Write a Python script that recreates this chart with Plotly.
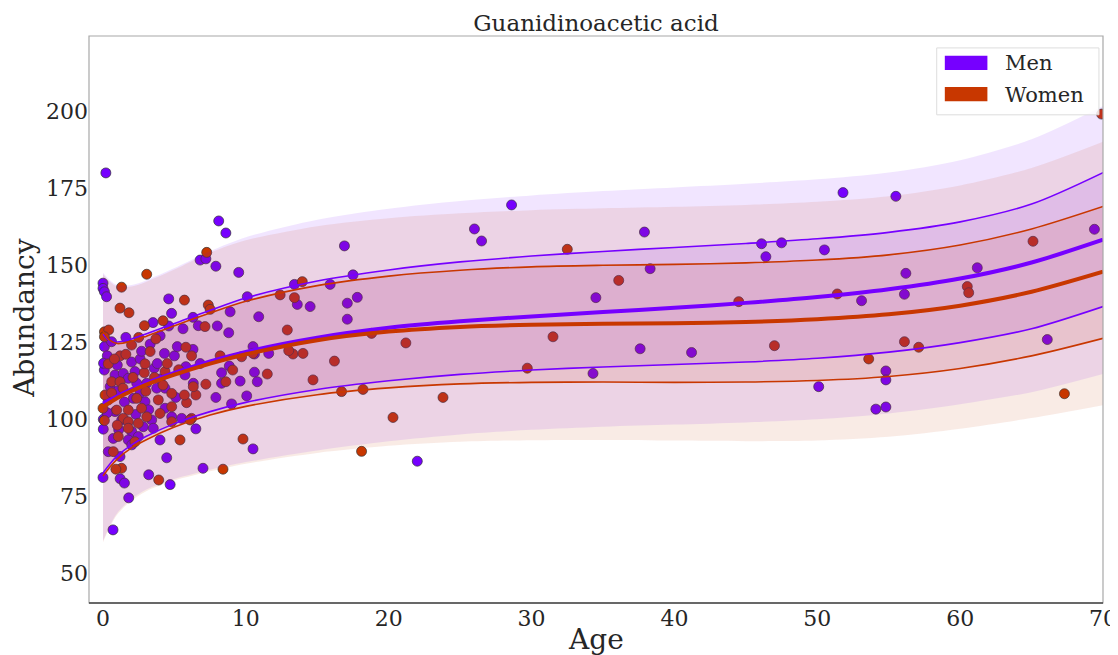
import plotly.graph_objects as go

# ---------------- data ----------------
men_age = [0.2, 8.1, 8.6, 6.8, 7.2, 7.9, 9.5, 16.9, 26.0, 26.5, 28.6, 37.9, 38.3, 34.5, 46.1, 47.5, 46.4,
           50.5, 51.8, 55.5, 56.2, 61.2, 69.4, 53.1, 56.1, 34.3, 37.6, 41.2, 54.8, 54.8, 50.1, 54.1, 54.8, 66.1,
           13.4, 15.9, 13.6, 14.5, 17.1, 10.1, 8.9, 10.9, 17.1, 8.0, 8.8, 10.5, 11.6, 10.6, 8.84, 8.3, 10.6,
           10.8, 9.6, 8.3, 7.9, 10.06, 9.0, 10.5, 22.0, 7.0, 6.5, 17.5, 17.8,
           0.0, 0.0, 0.1, 0.25, 4.6, 4.8, 3.5, 5.6, 4.6, 6.3, 6.67, 0.1, 0.6, 0.3, 4.3, 5.0, 6.3, 5.2,
           0.09, 0.84, 1.42, 1.77, 2.24, 2.36, 3.06, 3.59, 4.34, 3.76, 5.74, 6.32, 0.37, 0.84, 1.31, 2.12,
           2.94, 3.41, 4.34, 4.81, 2.82, 2.01, 3.52, 5.51, 0.02, 0.02, 0.37, 0.72, 1.77, 2.47, 2.01, 1.19,
           3.99, 4.46, 4.7, 0.7, 1.8, 3.2, 0.0, 1.2, 1.5,
           2.0, 2.6, 3.3, 1.6, 4.0, 2.7, 5.8, 6.8, 1.0, 3.8, 0.04,
           0.5, 1.0, 1.5, 2.6, 3.2, 0.3, 1.1, 2.3, 4.0, 5.1]
men_val = [179.9, 164.3, 160.4, 151.6, 152.0, 149.6, 147.6, 156.2, 161.7, 157.8, 169.5, 160.7, 148.8, 139.4,
           156.9, 157.2, 152.7, 154.9, 173.5, 172.3, 147.3, 149.1, 161.6, 138.4, 140.5, 114.8, 122.8, 121.6,
           115.6, 112.7, 110.5, 103.2, 103.9, 125.8,
           143.7, 143.7, 137.2, 136.5, 137.6, 139.7, 134.8, 133.2, 132.4, 130.2, 128.0, 123.5, 121.3, 121.1,
           117.2, 115.0, 115.2, 112.1, 112.3, 111.6, 107.0, 107.5, 104.9, 90.3, 86.3, 84.0, 96.8, 146.8, 139.5,
           144.1, 142.4, 141.3, 139.7, 139.0, 134.3, 131.3, 129.3, 130.2, 133.0, 130.3, 123.5, 125.1, 120.5,
           121.3, 120.5, 122.6, 123.5,
           115.9, 114.3, 114.8, 113.2, 115.4, 111.6, 111.6, 116.5, 110.0, 110.0, 114.3, 111.6, 106.2, 102.4,
           99.7, 106.7, 105.6, 99.7, 103.5, 100.7, 97.5, 95.9, 97.0, 100.2, 99.9, 96.7, 89.4, 93.7, 93.2,
           94.3, 91.6, 87.8, 93.2, 87.4, 78.7, 64.0, 74.4, 81.9, 81.0, 80.6, 79.2,
           118.5, 119.5, 124.3, 126.5, 127.0, 122.0, 117.0, 118.0, 117.5, 118.0, 118.1,
           110.5, 109.0, 105.5, 108.5, 103.0, 102.0, 96.5, 101.5, 113.0, 107.0]

women_age = [69.9, 32.5, 36.1, 65.1, 51.4, 60.5, 60.6, 44.5, 47.0, 56.1, 57.1, 53.6, 67.3, 29.7, 31.5, 23.8,
             21.2, 18.8, 20.3, 18.1, 18.2, 16.7, 16.2, 14.7,
             7.26, 13.95, 12.4, 13.4, 7.37, 7.5, 7.14, 12.9, 13.3, 14.0, 13.0, 9.7, 8.2, 9.08, 11.5, 8.6, 7.2,
             9.8, 8.4, 6.5, 6.2, 5.85, 5.7, 10.5,
             3.06, 1.3, 1.19, 1.82, 5.7, 2.9, 4.2, 0.1, 0.4, 0.1, 1.2, 3.3, 5.8, 6.2, 0.37, 0.61, 1.19, 2.89,
             2.94, 4.34, 4.81, 6.32, 0.14, 0.96, 1.77, 1.42, 2.36, 3.06, 3.87, 4.81, 3.99, 1.77, 1.77, 2.47,
             4.81, 6.09, 1.07, 2.24, 0.72, 5.39, 3.9, 1.3, 0.9, 0.1, 0.0,
             2.0, 3.7, 1.6, 4.5, 2.5,
             0.6, 1.4, 2.1, 3.0, 2.7, 1.0, 3.6, 4.2, 0.8, 5.3]
women_val = [199.0, 155.1, 145.0, 157.7, 140.6, 143.0, 141.0, 138.1, 123.8, 125.1, 123.3, 119.5, 108.2, 116.5,
             126.7, 107.0, 124.7, 127.8, 100.5, 89.5, 109.6, 108.9, 118.8, 112.7,
             154.1, 144.6, 140.3, 139.4, 137.0, 135.6, 130.0, 128.9, 121.1, 121.3, 122.2, 120.2, 120.5, 115.9,
             114.6, 112.1, 111.3, 93.5, 83.7, 107.8, 100.2, 105.3, 107.8, 121.3,
             147.0, 142.8, 136.0, 134.5, 138.6, 130.3, 131.9, 128.3, 128.9, 126.7, 120.5, 121.9, 123.3, 120.5,
             117.9, 112.1, 112.1, 115.0, 117.9, 115.4, 108.3, 110.5, 107.8, 102.9, 102.9, 100.2, 106.7, 100.7,
             106.2, 104.0, 101.8, 99.1, 97.0, 98.6, 99.1, 99.7, 94.3, 92.6, 89.4, 93.2, 80.2, 84.0, 83.7, 99.5,
             103.5,
             124.0, 126.0, 121.0, 118.0, 126.5,
             108.5, 110.0, 113.5, 109.0, 103.5, 98.0, 113.5, 111.0, 119.5, 116.0]

# fitted curves
grid = [0, 0.5, 1, 2, 3, 5, 7.5, 10, 15, 20, 25, 30, 35, 40, 45, 50, 55, 60, 65, 70]
men_mean = [105, 106.2, 107.4, 109.6, 111.6, 115, 118.7, 121.8, 126.4, 129.6, 131.7, 133.3, 134.7, 136.1,
            137.7, 139.6, 142.1, 145.6, 150.8, 158.2]
men_hi1 = [127.5, 125.3, 125, 126, 127.6, 131, 135.3, 139.3, 144.8, 148.4, 151, 152.9, 154.4, 155.7, 157,
           158.5, 160.6, 164, 169.8, 180]
men_lo1 = [82.5, 85.5, 88, 91.6, 94.3, 98.5, 102.4, 105.4, 109.6, 112.4, 114.5, 115.9, 116.9, 117.7, 118.5,
           119.7, 121.7, 124.8, 129.3, 136.5]
men_hi2 = [147.5, 145, 143.5, 143.5, 145, 149, 154.5, 159, 164.7, 168.3, 170.8, 172.6, 174, 175.2, 176.4,
           177.8, 180, 184, 190.8, 201.6]
men_lo2 = [60.5, 65.5, 69.5, 74, 77, 80.5, 83.5, 86, 89.8, 92.8, 95, 96.5, 97.5, 98.2, 98.9, 99.9, 101.8,
           104.8, 108.7, 114.6]
women_mean = [104, 105.4, 106.8, 109.1, 111.1, 114.4, 118, 121, 125.6, 128.4, 129.9, 130.6, 130.9, 131.1,
              131.5, 132.4, 134, 136.8, 141.3, 147.8]
women_hi1 = [128.5, 125.5, 124.5, 125.3, 126.8, 130.3, 134.4, 138.2, 143.3, 146.4, 148.3, 149.4, 149.9, 150.2,
             150.7, 151.6, 153.3, 156.5, 161.7, 169]
women_lo1 = [81.5, 84.5, 87, 90.6, 93.2, 97.4, 101.3, 104.1, 107.9, 110.1, 111.4, 111.9, 112, 111.9, 112,
             112.5, 113.8, 116.4, 120.5, 126.2]
women_hi2 = [147, 144.5, 143, 143, 144.5, 148.5, 154, 158, 162.6, 165.2, 166.8, 167.8, 168.4, 168.9, 169.5,
             170.5, 172.3, 175.8, 181.5, 190]
women_lo2 = [60, 65, 69, 73.5, 76.5, 80, 83, 85.5, 89, 91.3, 92.6, 93.1, 93.2, 93, 92.8, 93, 94.2, 96.8,
             100.3, 104.5]

groups = ["Men", "Women"]
title = "Guanidinoacetic acid"
x_label = "Age"
y_label = "Abundancy"
x_ticks = [0, 10, 20, 30, 40, 50, 60, 70]
y_ticks = [50, 75, 100, 125, 150, 175, 200]

# ---------------- style ----------------
MEN = "#7600FF"
WOMEN = "#C83700"
MEN_RGB = "118,0,255"
WOMEN_RGB = "200,55,0"
FONT = "DejaVu Serif"
TXT = "#262626"
SMOOTH = 0.85

fig = go.Figure()

# points (drawn first, bands overlay them)
fig.add_trace(go.Scatter(x=men_age, y=men_val, mode="markers",
                         marker=dict(size=10, color=MEN, line=dict(width=0.7, color="#333333")),
                         showlegend=False, hoverinfo="skip"))
fig.add_trace(go.Scatter(x=women_age, y=women_val, mode="markers",
                         marker=dict(size=10, color=WOMEN, line=dict(width=0.7, color="#333333")),
                         showlegend=False, hoverinfo="skip"))


def band(lo, hi, rgb, alpha):
    fig.add_trace(go.Scatter(x=grid, y=lo, mode="lines",
                             line=dict(width=0, shape="spline", smoothing=SMOOTH),
                             showlegend=False, hoverinfo="skip"))
    fig.add_trace(go.Scatter(x=grid, y=hi, mode="lines",
                             line=dict(width=0, shape="spline", smoothing=SMOOTH),
                             fill="tonexty", fillcolor=f"rgba({rgb},{alpha})",
                             showlegend=False, hoverinfo="skip"))


band(men_lo2, men_hi2, MEN_RGB, 0.1)
band(women_lo2, women_hi2, WOMEN_RGB, 0.1)
band(men_lo1, men_hi1, MEN_RGB, 0.1)
band(women_lo1, women_hi1, WOMEN_RGB, 0.1)

for color, mean, hi, lo in [(MEN, men_mean, men_hi1, men_lo1), (WOMEN, women_mean, women_hi1, women_lo1)]:
    for ys, w in [(hi, 1.6), (lo, 1.6), (mean, 4)]:
        fig.add_trace(go.Scatter(x=grid, y=ys, mode="lines",
                                 line=dict(color=color, width=w, shape="spline", smoothing=SMOOTH),
                                 showlegend=False, hoverinfo="skip"))

shapes = [
    dict(type="rect", xref="paper", yref="paper", x0=0, x1=1, y0=0, y1=1,
         line=dict(color="#a8a8a8", width=1.2), fillcolor="rgba(0,0,0,0)"),
    dict(type="line", xref="paper", yref="paper", x0=0, x1=1, y0=0, y1=0,
         line=dict(color="#444444", width=1.5)),
    # legend box and patches
    dict(type="rect", xref="paper", yref="paper", x0=0.836, x1=0.996, y0=0.861, y1=0.979,
         line=dict(color="#dddddd", width=1), fillcolor="rgba(255,255,255,0.85)"),
    dict(type="rect", xref="paper", yref="paper", x0=0.844, x1=0.886, y0=0.940, y1=0.965,
         line=dict(width=0), fillcolor=MEN),
    dict(type="rect", xref="paper", yref="paper", x0=0.844, x1=0.886, y0=0.885, y1=0.910,
         line=dict(width=0), fillcolor=WOMEN),
]

annotations = [
    dict(text=groups[0], xref="paper", yref="paper", x=0.901, y=0.952, xanchor="left", yanchor="middle",
         showarrow=False, font=dict(family=FONT, size=21, color=TXT)),
    dict(text=groups[1], xref="paper", yref="paper", x=0.901, y=0.896, xanchor="left", yanchor="middle",
         showarrow=False, font=dict(family=FONT, size=21, color=TXT)),
    dict(text=y_label, xref="paper", yref="paper", x=-0.0631, y=0.503, xanchor="center", yanchor="middle",
         textangle=-90, showarrow=False, font=dict(family=FONT, size=28, color=TXT)),
    dict(text=x_label, xref="paper", yref="paper", x=0.5, y=-0.065, xanchor="center", yanchor="middle",
         showarrow=False, font=dict(family=FONT, size=28, color=TXT)),
]

fig.update_layout(
    template="none",
    width=1118, height=655,
    margin=dict(l=81, r=23, t=28, b=60, autoexpand=False),
    paper_bgcolor="white", plot_bgcolor="white",
    title=dict(text=title, x=0.5, xref="paper", y=1 - 15 / 655, yref="container", yanchor="middle",
               xanchor="center", font=dict(family=FONT, size=23, color=TXT)),
    shapes=shapes, annotations=annotations,
    xaxis=dict(range=[-0.98, 70], tickvals=x_ticks, showgrid=False, zeroline=False, showline=False,
               automargin=False, ticks="", tickfont=dict(family=FONT, size=22, color=TXT)),
    yaxis=dict(range=[40.26, 224.35], tickvals=y_ticks, showgrid=False, zeroline=False, showline=False,
               automargin=False, ticks="", tickfont=dict(family=FONT, size=22, color=TXT)),
    showlegend=False,
)

fig.write_html("out.html")
